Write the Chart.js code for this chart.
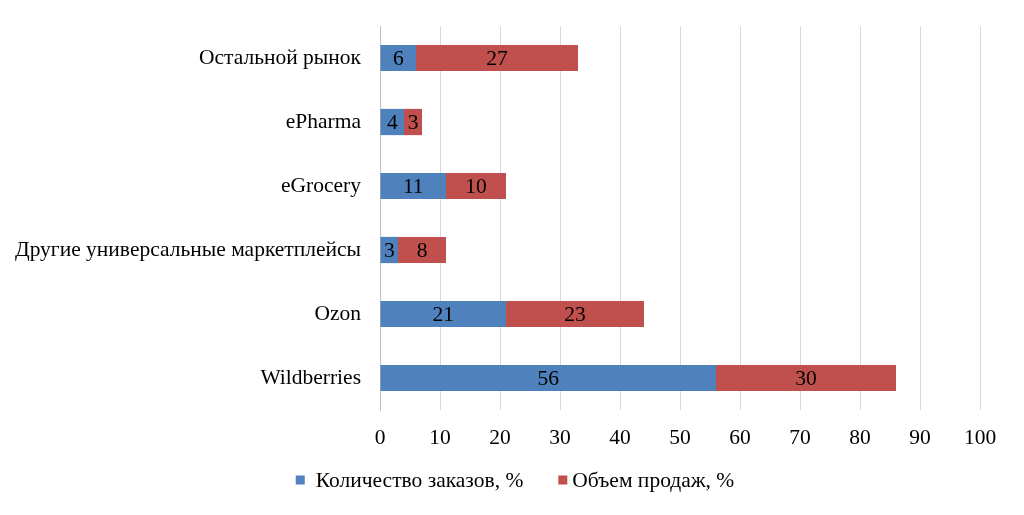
<!DOCTYPE html>
<html>
<head>
<meta charset="utf-8">
<script src="https://cdn.jsdelivr.net/npm/chart.js@4"></script>
<style>
html,body{margin:0;padding:0;background:#fff;}
#wrap{width:1024px;height:515px;}
</style>
</head>
<body>
<div id="wrap"><canvas id="c" width="1024" height="515"></canvas></div>
<script>
const categories = ["Остальной рынок", "ePharma", "eGrocery", "Другие универсальные маркетплейсы", "Ozon", "Wildberries"];
const orders = [6, 4, 11, 3, 21, 56];
const sales = [27, 3, 10, 8, 23, 30];
const seriesNames = ["Количество заказов, %", "Объем продаж, %"];
const xTicks = [0, 10, 20, 30, 40, 50, 60, 70, 80, 90, 100];

const FONT = "'Liberation Serif', 'Times New Roman', serif";
const FS = 21.5;

const labelPlugin = {
  id: 'segLabels',
  afterDatasetsDraw(chart) {
    const ctx = chart.ctx;
    ctx.save();
    ctx.font = FS + "px " + FONT;
    ctx.fillStyle = "#000";
    ctx.textAlign = "center";
    ctx.textBaseline = "middle";
    chart.data.datasets.forEach((ds, i) => {
      const meta = chart.getDatasetMeta(i);
      meta.data.forEach((bar, j) => {
        const p = bar.getProps(['x', 'y', 'base'], true);
        ctx.fillText(String(ds.data[j]), (p.x + p.base) / 2, p.y + 1);
      });
    });
    ctx.restore();
  }
};

const legendPlugin = {
  id: 'bottomLegend',
  afterDraw(chart) {
    const ctx = chart.ctx;
    ctx.save();
    ctx.font = FS + "px " + FONT;
    ctx.textBaseline = "middle";
    ctx.textAlign = "left";
    const box = 9, gapText = [11, 5], gapItem = 35;
    const ds = chart.data.datasets;
    const widths = ds.map(d => ctx.measureText(d.label).width);
    let total = 0;
    ds.forEach((d, i) => { total += box + gapText[i] + widths[i]; if (i < ds.length - 1) total += gapItem; });
    let x = 515 - total / 2;
    const cy = 481;
    ds.forEach((d, i) => {
      ctx.fillStyle = d.backgroundColor;
      ctx.fillRect(x, cy - box / 2 - 1, box, box);
      x += box + gapText[i];
      ctx.fillStyle = "#000";
      ctx.fillText(d.label, x, cy);
      x += widths[i] + gapItem;
    });
    ctx.restore();
  }
};

new Chart(document.getElementById('c'), {
  type: 'bar',
  data: {
    labels: categories,
    datasets: [
      { label: seriesNames[0], data: orders, backgroundColor: '#4F81BD', borderWidth: 0, barPercentage: 0.82, categoryPercentage: 0.5 },
      { label: seriesNames[1], data: sales, backgroundColor: '#C0504D', borderWidth: 0, barPercentage: 0.82, categoryPercentage: 0.5 }
    ]
  },
  options: {
    indexAxis: 'y',
    responsive: false,
    animation: false,
    layout: { padding: { top: 26, right: 44, left: 0, bottom: 55 } },
    plugins: {
      legend: { display: false },
      tooltip: { enabled: false }
    },
    scales: {
      x: {
        stacked: true,
        min: 0,
        max: 100,
        afterBuildTicks(axis) { axis.ticks = xTicks.map(v => ({ value: v })); },
        grid: { color: '#d9d9d9', lineWidth: 1, drawTicks: false },
        border: { display: false },
        ticks: { font: { family: FONT, size: FS }, color: '#000', padding: 15 },
        afterFit(axis) { axis.height = 50; }
      },
      y: {
        stacked: true,
        grid: { display: false },
        border: { display: true, color: '#bfbfbf', width: 1 },
        ticks: { font: { family: FONT, size: FS }, color: '#000', padding: 11 },
        afterFit(axis) { axis.width = 380; }
      }
    }
  },
  plugins: [labelPlugin, legendPlugin]
});
</script>
</body>
</html>
